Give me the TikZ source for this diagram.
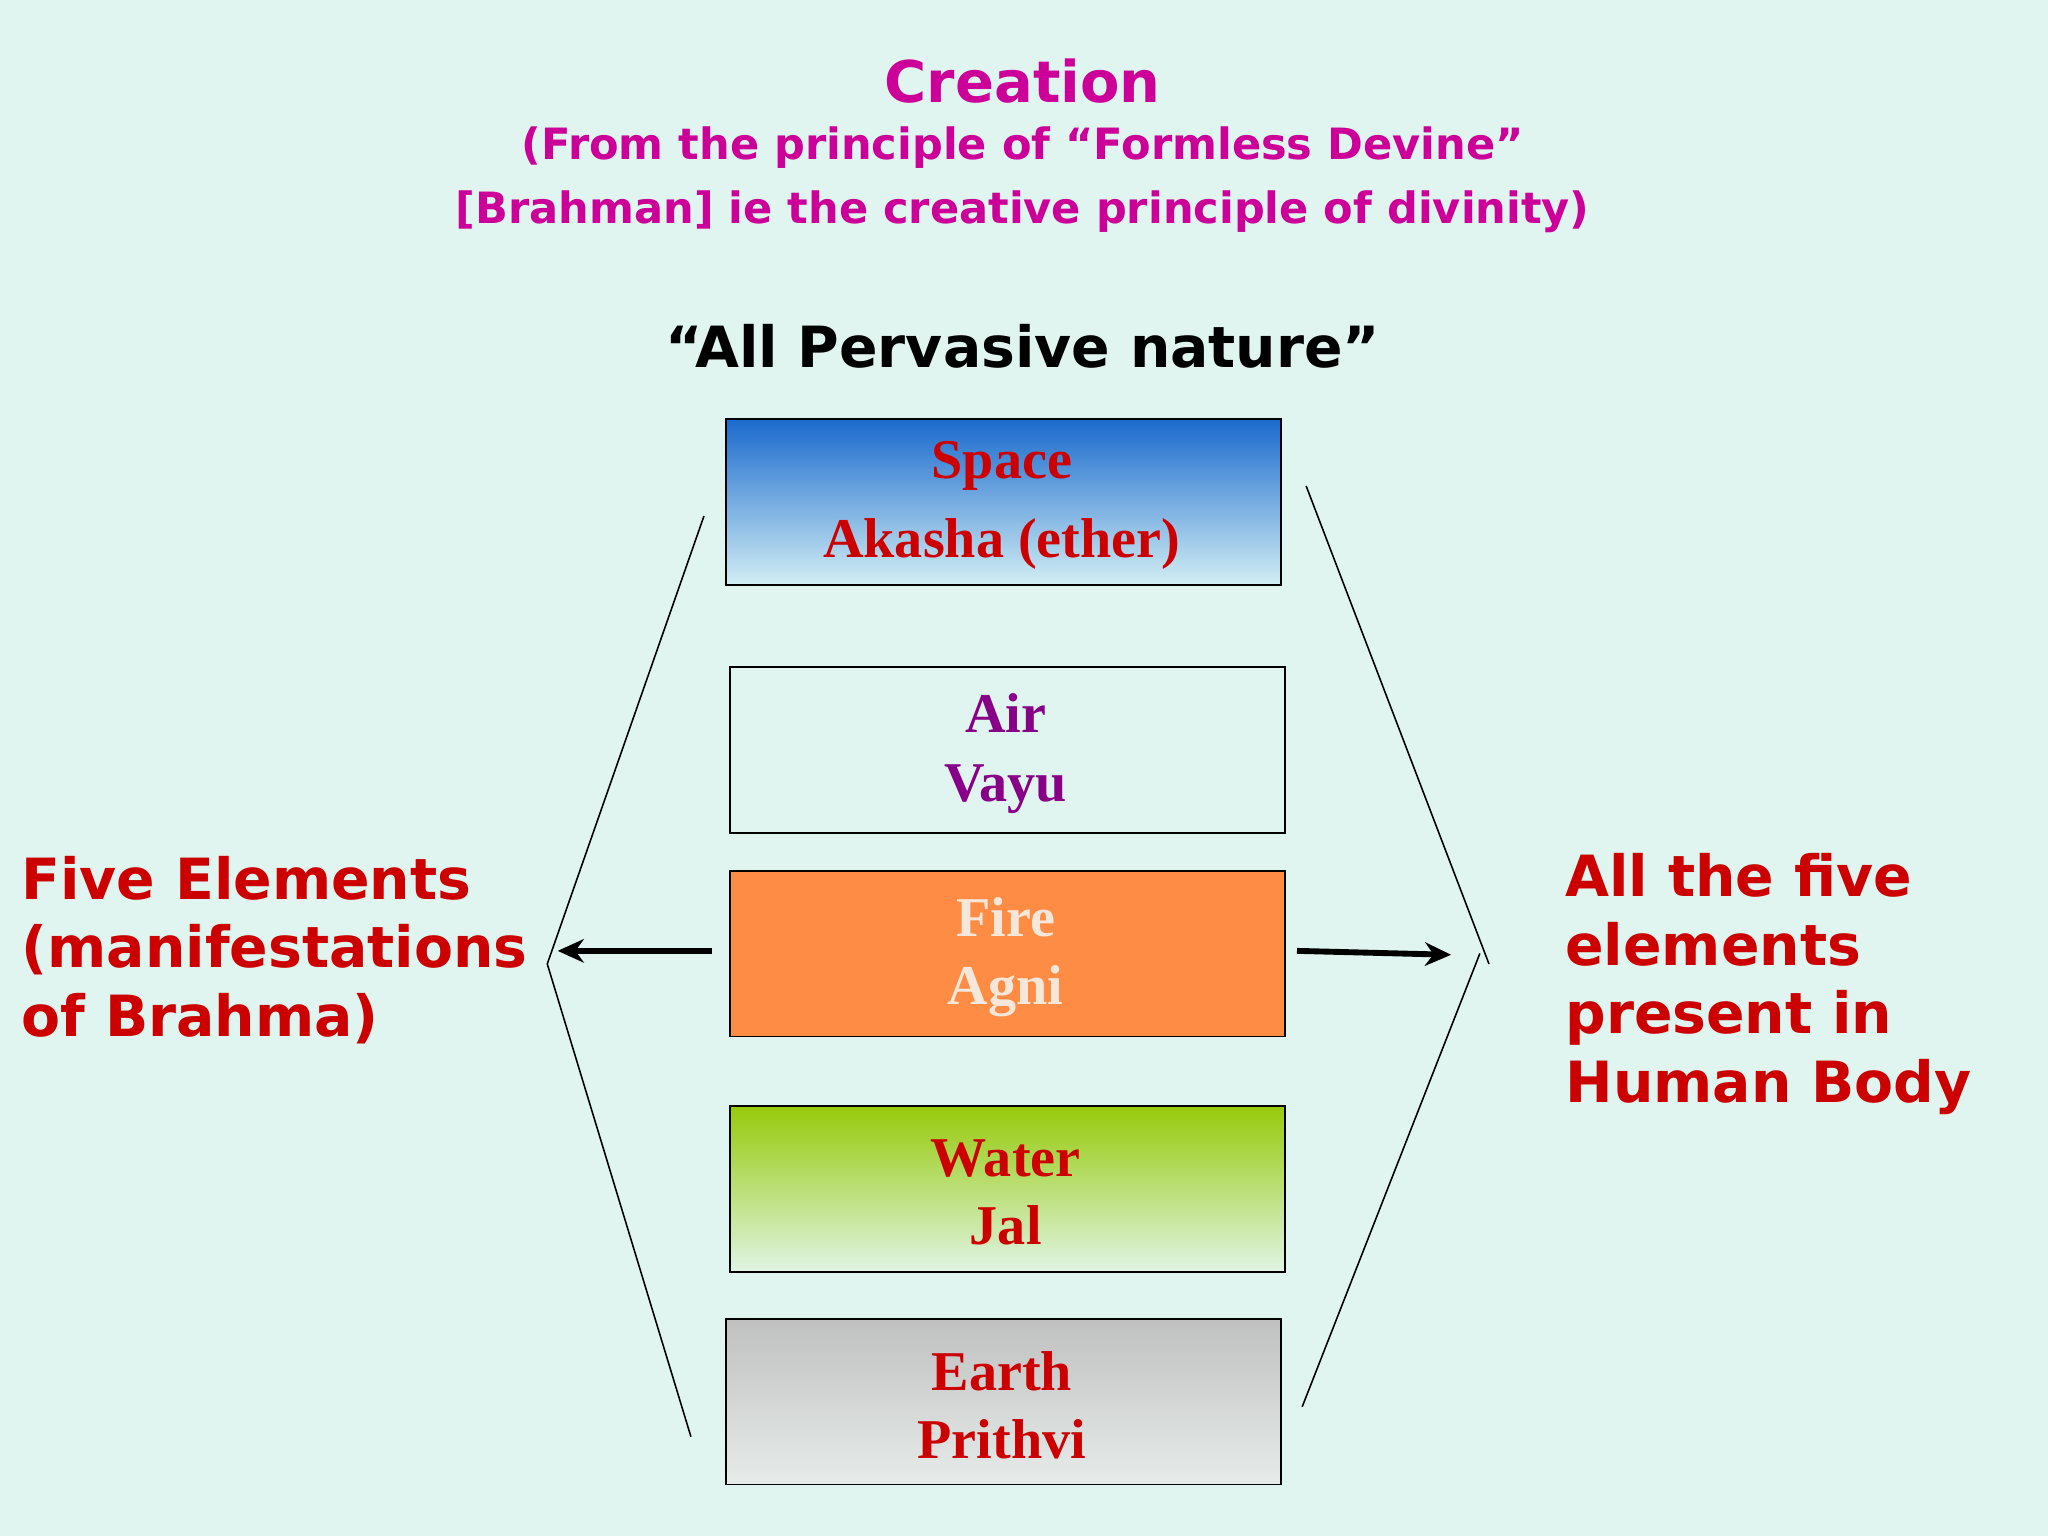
\documentclass[tikz,border=0pt]{standalone}
\usepackage{fontspec}
\setmainfont{Liberation Serif}
\newfontfamily\vsans{DejaVu Sans}
\usetikzlibrary{arrows.meta}
\definecolor{bgc}{HTML}{E0F5EF}
\definecolor{mag}{HTML}{CC0099}
\definecolor{redt}{HTML}{CC0000}
\definecolor{purt}{HTML}{880088}
\definecolor{bluetop}{HTML}{1A6ACD}
\definecolor{bluebot}{HTML}{D2EEF4}
\definecolor{firec}{HTML}{FF8C45}
\definecolor{firet}{HTML}{F5E8DA}
\definecolor{greentop}{HTML}{96CA0A}
\definecolor{greenbot}{HTML}{E0F4E4}
\definecolor{graytop}{HTML}{C0C0C0}
\definecolor{graybot}{HTML}{E6ECEA}
\begin{document}
\begin{tikzpicture}[x=1pt,y=-1pt,
  elbox/.style={draw=black,line width=1.3pt,minimum width=425pt,minimum height=127pt,anchor=north west,inner sep=0pt},
  eltext/.style={font=\fontsize{43}{52.5}\selectfont\bfseries,align=center,text=redt},
  sidetext/.style={font=\vsans\fontsize{43.5}{52.5}\selectfont\bfseries,text=redt,align=left,anchor=north west},
  thinline/.style={line width=1.2pt},
  arr/.style={line width=4.5pt,-{Stealth[length=20pt,width=18pt]}}]
\fill[bgc] (0,0) rectangle (1568,1176);
\useasboundingbox (0,0) rectangle (1568,1176);
\node (t1) at (783,62) {\vsans\fontsize{44}{48}\selectfont\bfseries\color{mag}Creation};
\node (t2) at (783,138) [align=center,font=\vsans\fontsize{33}{49}\selectfont\bfseries,text=mag] {(From the principle of “Formless Devine”\\ {[}Brahman] ie the creative principle of divinity)};
\node (t3) at (783,265) {\vsans\fontsize{43.5}{48}\selectfont\bfseries “All Pervasive nature”};
\node[elbox,top color=bluetop,bottom color=bluebot] (sp) at (555,320) {};
\node[eltext,font=\fontsize{43}{60}\selectfont\bfseries] at (767,387) {Space\\ Akasha (ether)};
\node[elbox,fill=bgc] (air) at (558,510) {};
\node[eltext,text=purt] at (770,577) {Air\\ Vayu};
\node[elbox,fill=firec] (fire) at (558,666) {};
\node[eltext,text=firet] at (770,733) {Fire\\ Agni};
\node[elbox,top color=greentop,bottom color=greenbot] (wat) at (558,846) {};
\node[eltext] at (770,913) {Water\\ Jal};
\node[elbox,top color=graytop,bottom color=graybot] (ear) at (555,1009) {};
\node[eltext] at (767,1076) {Earth\\ Prithvi};
\coordinate (l1) at (539,395); \coordinate (l2) at (419,738); \coordinate (l3) at (529,1100);
\coordinate (r1) at (1000,372); \coordinate (r2) at (1140,738);
\coordinate (r3) at (1133,730); \coordinate (r4) at (997,1077);
\draw[thinline] (l1)--(l2)--(l3);
\draw[thinline] (r1)--(r2);
\draw[thinline] (r3)--(r4);
\coordinate (a1) at (545,728); \coordinate (a2) at (427,728);
\coordinate (b1) at (993,728); \coordinate (b2) at (1111,731);
\draw[arr] (a1)--(a2);
\draw[arr] (b1)--(b2);
\node[sidetext] (lt) at (13,652) {Five Elements\\(manifestations\\of Brahma)};
\node[sidetext] (rt) at (1195,650) {All the five\\elements\\present in\\Human Body};
\end{tikzpicture}
\end{document}
